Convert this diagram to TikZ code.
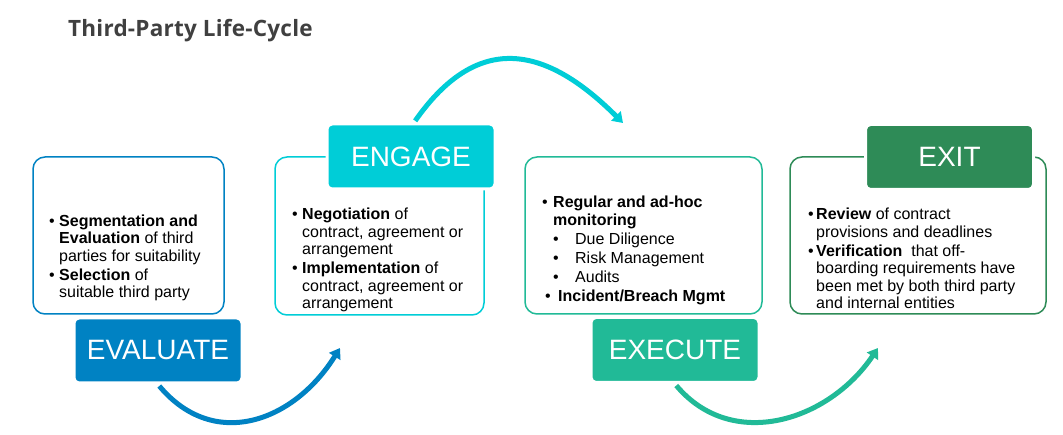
\documentclass[tikz,border=0pt]{standalone}
\usepackage{fontspec}
\setmainfont{Liberation Sans}
\newfontfamily\titlefont[LetterSpace=1]{Open Sans}
\usetikzlibrary{arrows.meta, positioning}

\definecolor{evalBlue}{RGB}{0, 130, 195}
\definecolor{engageCyan}{RGB}{0, 205, 215}
\definecolor{executeTeal}{RGB}{33, 186, 151}
\definecolor{exitGreen}{RGB}{46, 139, 87}
\definecolor{titleGray}{RGB}{64, 64, 64}

% bullet and hanging indent for the box texts
\newcommand{\bul}[1][10pt]{\makebox[#1][l]{\textbullet}}
\newcommand{\ind}[1][10pt]{\hspace*{#1}}

\tikzset{
    stageBox/.style={
        rectangle,
        rounded corners=12pt,
        line width=1.5pt,
        fill=white,
        inner sep=0pt
    },
    stageLabel/.style={
        rectangle,
        rounded corners=5pt,
        minimum width=168pt,
        minimum height=65pt,
        draw=white,
        line width=3pt,
        text=white,
        inner sep=0pt,
        font=\fontsize{28}{30}\selectfont
    },
    % base = baseline of the last line
    bodyText/.style={
        anchor=base west,
        align=left,
        inner sep=0pt,
        text=black,
        font=\fontsize{16}{17.5}\selectfont
    },
    cycleArrow/.style={
        line width=5pt,
        shorten <=2pt,
        -{Triangle[width=13pt,length=10pt]}
    }
}

\begin{document}
\begin{tikzpicture}[x=1pt, y=1pt]
    \useasboundingbox (0,0) rectangle (1063,435);
    \fill[white] (0,0) rectangle (1063,435);

    \node[anchor=west, inner sep=0pt, text=titleGray, font=\titlefont\bfseries\fontsize{22.5}{26}\selectfont] (title) at (68, 404) {Third-Party Life-Cycle};

    % content boxes
    \node[stageBox, draw=evalBlue, minimum width=191pt, minimum height=157pt] (evalBox) at (128.5, 199.5) {};
    \node[stageBox, draw=engageCyan, minimum width=209pt, minimum height=158pt] (engBox) at (379.5, 199) {};
    \node[stageBox, draw=executeTeal, minimum width=237pt, minimum height=157pt] (execBox) at (643.5, 199.5) {};
    \node[stageBox, draw=exitGreen, minimum width=256pt, minimum height=157pt] (exitBox) at (918, 199.5) {};

    % stage labels
    \node[stageLabel, fill=evalBlue] (evalLbl) at (158, 84.5) {EVALUATE};
    \node[stageLabel, fill=engageCyan] (engLbl) at (411, 278.5) {ENGAGE};
    \node[stageLabel, fill=executeTeal] (execLbl) at (675, 85) {EXECUTE};
    \node[stageLabel, fill=exitGreen] (exitLbl) at (949.5, 278) {EXIT};

    % box texts
    \node[bodyText] (evalText) at (49, 137) {
        \bul\textbf{Segmentation and}\\
        \ind\textbf{Evaluation} of third\\
        \ind parties for suitability\\[1.5pt]
        \bul\textbf{Selection} of\\
        \ind suitable third party
    };
    \node[bodyText] (engText) at (292, 126) {
        \bul\textbf{Negotiation} of\\
        \ind contract, agreement or\\
        \ind arrangement\\[1.5pt]
        \bul\textbf{Implementation} of\\
        \ind contract, agreement or\\
        \ind arrangement
    };
    \node[bodyText] (execText) at (542, 133) {
        \bul[11pt]\textbf{Regular and ad-hoc}\\
        \ind[11pt]\textbf{monitoring}\\[1.5pt]
        \ind[11pt]\bul[22pt]Due Diligence\\[1.5pt]
        \ind[11pt]\bul[22pt]Risk Management\\[1.5pt]
        \ind[11pt]\bul[22pt]Audits\\[2pt]
        \ind[3pt]\bul[13pt]\textbf{Incident/Breach Mgmt}
    };
    \node[bodyText] (exitText) at (808, 126) {
        \bul[8pt]\textbf{Review} of contract\\
        \ind[8pt]provisions and deadlines\\[1.5pt]
        \bul[8pt]\textbf{Verification}\ \ that off-\\
        \ind[8pt]boarding requirements have\\
        \ind[8pt]been met by both third party\\
        \ind[8pt]and internal entities
    };

    % cycle arrows
    \coordinate (evalTip) at (340, 87);
    \coordinate (engTip) at (623, 312);
    \coordinate (execTip) at (878, 87);
    \draw[cycleArrow, evalBlue] (evalLbl.south) to[out=-50, in=-122, looseness=1.2] (evalTip);
    \draw[cycleArrow, engageCyan] ([xshift=3pt]engLbl.north) to[out=55, in=135, looseness=1.35] (engTip);
    \draw[cycleArrow, executeTeal] (execLbl.south) to[out=-50, in=-124, looseness=1.1] (execTip);
\end{tikzpicture}
\end{document}
